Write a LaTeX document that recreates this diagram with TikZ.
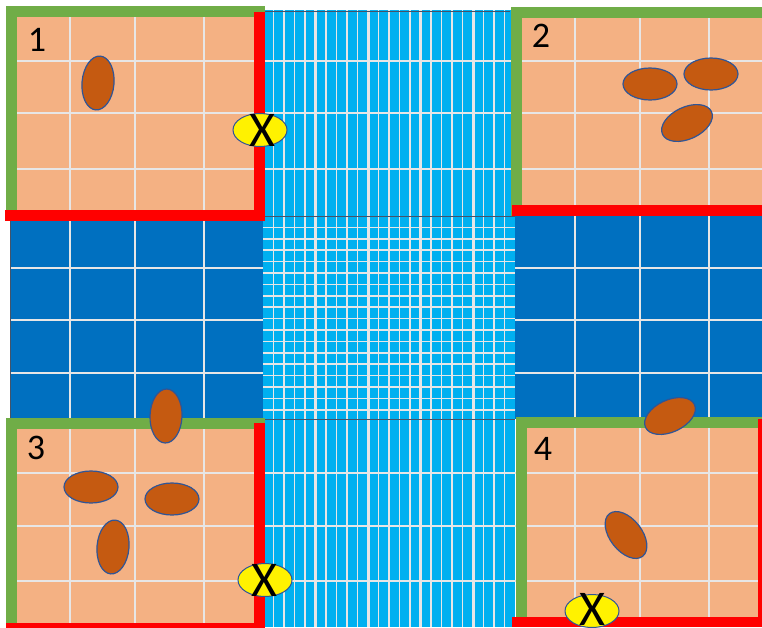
\documentclass[tikz,border=0pt]{standalone}
\usepackage{fontspec}
\setmainfont{Carlito}
\usepackage{xcolor}
\usepackage{tikz}
\usetikzlibrary{shapes.geometric}

\definecolor{wallgreen}{HTML}{70AD47}
\definecolor{wallred}{HTML}{FF0000}
\definecolor{floor}{HTML}{F4B183}
\definecolor{seat}{HTML}{C55A11}
\definecolor{rim}{HTML}{2F5597}
\definecolor{corridor}{HTML}{0070C0}
\definecolor{hall}{HTML}{00B0F0}
\definecolor{gridw}{HTML}{E7E6E6}
\definecolor{edge}{HTML}{44546A}

\begin{document}
\begin{tikzpicture}[x=1pt,y=-1pt,
  every node/.style={inner sep=0pt},
  gline/.style={gridw,line width=1.8pt},
  fline/.style={gridw,line width=1.5pt},
  bline/.style={gridw,line width=3pt},
  edgeline/.style={edge,line width=0.9pt},
  greenwall/.style={wallgreen,line width=11pt,line join=miter},
  redwall/.style={wallred,line width=11pt,line join=miter},
  blob/.style={ellipse,draw=rim,line width=1.2pt,fill=seat,
               minimum width=54pt,minimum height=32pt},
  blocker/.style={ellipse,draw=rim,line width=1pt,fill=yellow,
                  minimum width=54pt,minimum height=33pt},
  cross/.style={font=\fontsize{50}{50}\selectfont},
  tag/.style={font=\fontsize{36}{36}\selectfont},
]
\useasboundingbox (0,0) rectangle (762,627);

\fill[hall] (263,10) rectangle (515,627);
\fill[corridor] (10,216) rectangle (263,419);
\fill[corridor] (515,216) rectangle (762,419);

\fill[floor] (17,17) rectangle (254,210);
\fill[floor] (522,18) rectangle (762,205);
\fill[floor] (17,429) rectangle (254,623);
\fill[floor] (527,427) rectangle (758,617);

\foreach \k in {1,...,23}
  \draw[fline] ({263+10.5*\k},10) -- ({263+10.5*\k},627);
\foreach \k in {5,10,15,20}
  \draw[bline] ({263+10.5*\k},10) -- ({263+10.5*\k},627);
\foreach \k in {1,...,17}
  \draw[fline] (263,{216+11.4*\k}) -- (515,{216+11.4*\k});

\foreach \x in {70,135,204,575,640,709}
  \draw[gline] (\x,10) -- (\x,627);
\foreach \y in {61,113,169,473,526,581}
  \draw[gline] (10,\y) -- (762,\y);
\foreach \y in {268,320,373} {
  \draw[gline] (10,\y) -- (263,\y);
  \draw[gline] (515,\y) -- (762,\y);
}

\draw[edgeline] (263,11) -- (510,11);
\draw[edgeline] (263,216) -- (515,216);
\draw[edgeline] (263,419) -- (515,419);
\draw[edgeline] (10,216) -- (10,419);

\draw[greenwall] (11.5,213) -- (11.5,11.5) -- (265,11.5);
\draw[redwall] (259.5,12) -- (259.5,215.5) -- (5,215.5);

\draw[greenwall] (516,216) -- (516,12.5) -- (762,12.5);
\draw[redwall] (512,210.5) -- (762,210.5);

\draw[greenwall] (11.5,627) -- (11.5,423.5) -- (265,423.5);
\draw[redwall] (259.5,423) -- (259.5,628) -- (6,628);

\draw[greenwall] (521,627) -- (521,422) -- (762,422);
\draw[wallred,line width=4pt] (760,419) -- (760,627);
\draw[redwall,line width=10pt] (512,622) -- (762,622);

\node[blob,rotate=85] (s1a) at (98,83) {};

\node[blob] (s2a) at (650,84) {};
\node[blob] (s2b) at (711,74) {};
\node[blob,rotate=25] (s2c) at (687,123) {};

\node[blob,rotate=88] (s3a) at (166,416) {};
\node[blob] (s3b) at (91,487) {};
\node[blob] (s3c) at (172,499) {};
\node[blob,rotate=85] (s3d) at (113,547) {};

\node[blob,rotate=25] (s4a) at (670,416) {};
\node[blob,rotate=-52] (s4b) at (626,535) {};

\node[blocker] (x1) at (260,130) {};
\node[cross] (x1l) at (262,130) {X};
\node[blocker] (x3) at (265,580) {};
\node[cross] (x3l) at (264,580) {X};
\node[blocker] (x4) at (592,611) {};
\node[cross] (x4l) at (592,609) {X};

\node[tag] (n1) at (37,40) {1};
\node[tag] (n2) at (541,36) {2};
\node[tag] (n3) at (36,448) {3};
\node[tag] (n4) at (543,449) {4};
\end{tikzpicture}
\end{document}
